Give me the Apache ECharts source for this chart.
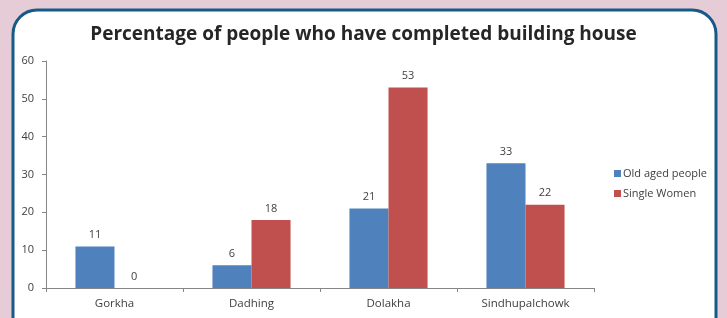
<!DOCTYPE html>
<html>
<head>
<meta charset="utf-8">
<script src="https://cdn.jsdelivr.net/npm/echarts@6/dist/echarts.min.js"></script>
<style>
html, body { margin: 0; padding: 0; background: #e6ccd6; }
#main { width: 727px; height: 318px; }
</style>
</head>
<body>
<div id="main"></div>
<script>
var districts = ['Gorkha', 'Dadhing', 'Dolakha', 'Sindhupalchowk'];
var oldAged = [11, 6, 21, 33];
var singleWomen = [0, 18, 53, 22];
var yTicks = { min: 0, max: 60, interval: 10 };

var myChart = echarts.init(document.getElementById('main'));
var font = 'Open Sans';

var option = {
	backgroundColor: '#e6ccd6',
	graphic: [{
		type: 'rect',
		z: -10,
		shape: { x: 13, y: 10, width: 703, height: 340, r: 24 },
		style: { fill: '#fff', stroke: '#165a87', lineWidth: 3 }
	}],
	title: {
		text: 'Percentage of people who have completed building house',
		left: 'center',
		top: 20,
		textStyle: { fontFamily: font, fontSize: 19, fontWeight: 'bold', color: '#262626' }
	},
	legend: {
		orient: 'vertical',
		left: 614,
		top: 168,
		padding: 0,
		itemWidth: 7,
		itemHeight: 7,
		itemGap: 9,
		icon: 'rect',
		textStyle: { fontFamily: font, fontSize: 11, color: '#404040', padding: [0, 0, 0, -3] },
		data: ['Old aged people', 'Single Women']
	},
	grid: { left: 46, right: 133, top: 61, bottom: 30 },
	xAxis: {
		type: 'category',
		data: districts,
		axisLine: { lineStyle: { color: '#868686' } },
		axisTick: { show: true, length: 4, lineStyle: { color: '#868686' } },
		axisLabel: { fontFamily: font, fontSize: 11.5, color: '#404040', margin: 10 }
	},
	yAxis: {
		type: 'value',
		min: yTicks.min,
		max: yTicks.max,
		interval: yTicks.interval,
		splitLine: { show: false },
		axisLine: { show: true, lineStyle: { color: '#868686' } },
		axisTick: { show: true, length: 4, lineStyle: { color: '#868686' } },
		axisLabel: { fontFamily: font, fontSize: 11, color: '#404040', margin: 12 }
	},
	series: [{
		name: 'Old aged people',
		type: 'bar',
		data: oldAged,
		barGap: '0%',
		barCategoryGap: '43%',
		itemStyle: { color: '#4f81bd' },
		label: { show: true, position: 'top', distance: 6, fontFamily: font, fontSize: 11, color: '#404040' }
	}, {
		name: 'Single Women',
		type: 'bar',
		data: singleWomen,
		itemStyle: { color: '#c0504d' },
		label: { show: true, position: 'top', distance: 6, fontFamily: font, fontSize: 11, color: '#404040' }
	}]
};
myChart.setOption(option);
</script>
</body>
</html>
